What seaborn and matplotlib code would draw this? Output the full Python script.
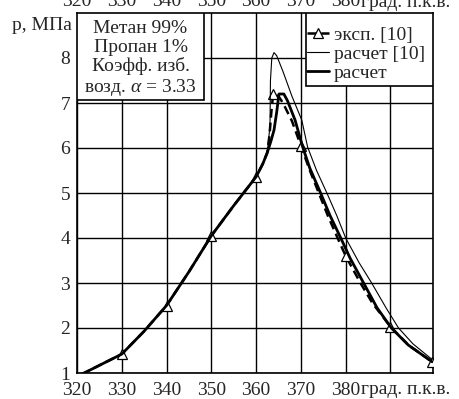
import numpy as np
import pandas as pd
import seaborn as sns
import matplotlib.pyplot as plt
from matplotlib.patches import Rectangle
import matplotlib.transforms as mtrans

sns.set_style('white')
plt.rcParams['font.family'] = ['Liberation Serif', 'DejaVu Serif']
plt.rcParams['mathtext.fontset'] = 'custom'
plt.rcParams['mathtext.rm'] = 'Liberation Serif'
plt.rcParams['mathtext.it'] = 'Liberation Serif:italic'

# experiment [10] (dashed with triangles)
exp_x = [321.0, 325, 330, 335, 340, 345, 350, 355, 360, 361.5, 362.5, 363.0, 363.4, 363.8,
         365.0, 366.0, 368.0, 370.0, 372.0, 374.0, 376.0, 378.2, 380.0, 383.3, 386.0, 390.0, 394.0, 399.3]
exp_y = [0.97, 1.17, 1.42, 1.93, 2.5, 3.25, 4.05, 4.72, 5.36, 5.65, 5.9, 6.3, 6.8, 7.2,
         7.15, 7.0, 6.6, 6.05, 5.5, 5.0, 4.5, 4.0, 3.6, 3.0, 2.55, 2.03, 1.62, 1.25]
exp_marks = [2, 4, 6, 8, 13, 17, 22, 25, 27]

# calculation [10] (thin)
ref_x = [321.0, 325, 330, 335, 340, 345, 350, 355, 360, 361.5, 362.5, 363.1, 363.2, 363.5,
         364.0, 364.6, 366.0, 368.0, 370.2, 371.5, 373.5, 375.8, 378.0, 380.0, 383.0, 385.8,
         389.0, 391.8, 395.0, 399.3]
ref_y = [0.97, 1.17, 1.42, 1.93, 2.5, 3.25, 4.05, 4.72, 5.36, 5.65, 5.9, 6.5, 7.5, 8.0,
         8.12, 8.05, 7.7, 7.15, 6.62, 6.02, 5.5, 5.0, 4.5, 4.0, 3.45, 3.0, 2.45, 2.0, 1.65, 1.3]

# calculation (thick)
calc_x = [321.0, 325, 330, 335, 340, 345, 350, 355, 360, 361.5, 362.5, 363.3, 364.0, 364.6,
          365.1, 366.2, 367.0, 368.7, 370.4, 372.0, 374.4, 376.5, 378.9, 381.0, 384.0, 387.0,
          390.2, 394.0, 399.3]
calc_y = [0.97, 1.17, 1.42, 1.93, 2.5, 3.25, 4.05, 4.72, 5.36, 5.65, 5.9, 6.15, 6.4, 6.8,
          7.2, 7.2, 7.05, 6.62, 6.02, 5.55, 5.0, 4.5, 4.0, 3.55, 3.0, 2.45, 2.0, 1.62, 1.25]

x_ticks = [320, 330, 340, 350, 360, 370, 380, 390]
x_labels = ['320', '330', '340', '350', '360', '370', '380', '']
y_ticks = [1, 2, 3, 4, 5, 6, 7, 8]
y_labels = ['1', '2', '3', '4', '5', '6', '7', '8']
x_unit = 'град. п.к.в.'
y_unit = 'р, МПа'
legend_labels = ['эксп. [10]', 'расчет [10]', 'расчет']
info_text = 'Метан 99%\nПропан 1%\nКоэфф. изб.\nвозд. $α$ = 3.33'

fig = plt.figure(figsize=(4.6, 3.99), dpi=100)
ax = fig.add_axes([77 / 460, 26 / 399, 356 / 460, 360 / 399])

sns.lineplot(x=exp_x, y=exp_y, ax=ax, sort=False, estimator=None, color='black',
             linewidth=1.8, linestyle=(0, (3.5, 2)), marker='^', markevery=exp_marks,
             markersize=6.5, markerfacecolor='white', markeredgecolor='black',
             markeredgewidth=0.9, label=legend_labels[0], zorder=3)
sns.lineplot(x=ref_x, y=ref_y, ax=ax, sort=False, estimator=None, color='black',
             linewidth=0.8, label=legend_labels[1], zorder=3)
sns.lineplot(x=calc_x, y=calc_y, ax=ax, sort=False, estimator=None, color='black',
             linewidth=2.0, label=legend_labels[2], zorder=3)

ax.set_xlim(320, 399.5)
ax.set_ylim(1, 9)
ax.set_xticks(x_ticks)
ax.set_xticklabels(x_labels, fontsize=14)
ax.set_yticks(y_ticks)
ax.set_yticklabels(y_labels, fontsize=14)
ax.tick_params(axis='both', length=0)
ax.tick_params(axis='x', pad=6.5)
ax.tick_params(axis='y', pad=5)
ax.set_xlabel('')
ax.set_ylabel('')
ax.grid(True, color='black', linewidth=1.0)
ax.set_axisbelow(True)
for s in ax.spines.values():
    s.set_color('black')
    s.set_linewidth(1.2)

# top duplicated axis labels (cut by the figure edge)
sec = ax.secondary_xaxis('top')
sec.set_xticks(x_ticks)
sec.set_xticklabels(x_labels, fontsize=14)
sec.tick_params(length=0, pad=2)
for s in sec.spines.values():
    s.set_visible(False)

trans = mtrans.blended_transform_factory(ax.transData, ax.transAxes)
ax.text(383.5, -21.5 / 360, x_unit, transform=trans, ha='left', va='baseline',
        fontsize=14, clip_on=False)
ax.text(383.5, 1.0 + 6 / 360, x_unit, transform=trans, ha='left', va='baseline',
        fontsize=14, clip_on=False)

ax.text(-0.015, 8.73, y_unit, transform=mtrans.blended_transform_factory(ax.transAxes, ax.transData),
        ha='right', va='center', fontsize=14, clip_on=False)

# info box
ax.add_patch(Rectangle((0, 0.758), 0.357, 0.242, transform=ax.transAxes,
                       facecolor='white', edgecolor='black', linewidth=1.2, zorder=4))
ax.text(0.1785, 0.872, info_text, transform=ax.transAxes, ha='center', va='center',
        multialignment='center', fontsize=14, linespacing=1.13, zorder=5)

# legend frame and entries
lx0 = (306 - 77) / 356
ly0 = (373 - 86) / 360
ax.add_patch(Rectangle((lx0, ly0), 1 - lx0, 1 - ly0, transform=ax.transAxes,
                       facecolor='white', edgecolor='black', linewidth=1.2, zorder=4))
leg = ax.legend(loc='upper left', bbox_to_anchor=(lx0 + 0.002, 1 - 13 / 360), borderaxespad=0,
                frameon=False, fontsize=14, borderpad=0, labelspacing=0.08,
                handlelength=1.15, handletextpad=0.25)
leg.set_zorder(6)

fig.savefig('out.png', dpi=100)
